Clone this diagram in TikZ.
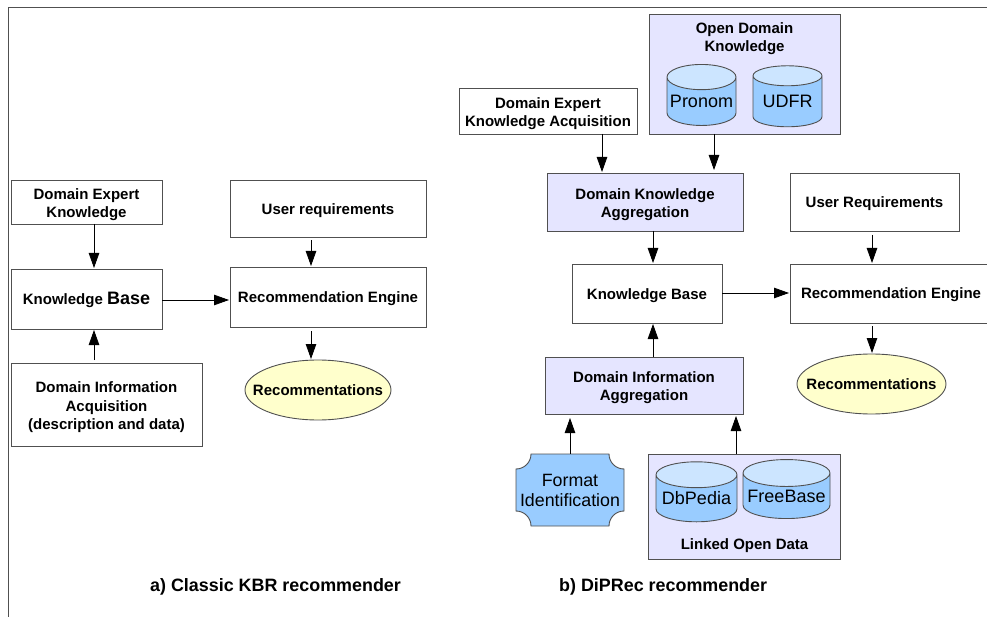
\documentclass[tikz,border=0pt]{standalone}
\usepackage{fontspec}
\setmainfont{Liberation Sans}
\usetikzlibrary{
  positioning,
  shapes.geometric,
  graphs,
  arrows.meta,
}
\definecolor{edgegray}{HTML}{505050}
\definecolor{lilac}{HTML}{E5E5FF}
\definecolor{skyblue}{HTML}{99CCFF}
\definecolor{skytop}{HTML}{CCE5FF}
\definecolor{paleyellow}{HTML}{FFFFCC}
\tikzset{
  x=1pt,
  y=1pt,
  >={Triangle[length=15pt,width=10.5pt]},
  every new ->/.style={
    line width=.8pt,
    shorten >=1pt,
    black,
  },
  box/.style={
    rectangle,
    draw=edgegray,
    line width=.9pt,
    outer sep=0pt,
    inner sep=0pt,
    align=center,
    fill=white,
    text height=15pt,
    font=\fontsize{15}{18.3}\selectfont\bfseries,
  },
  two lines/.style={
    text height=34pt,
  },
  three lines/.style={
    text height=53pt,
  },
  aggregate/.style={
    box,
    fill=lilac,
  },
  outcome/.style={
    box,
    ellipse,
    text height=,
    inner xsep=-14pt,
    fill=paleyellow,
    minimum width=146pt,
    minimum height=60pt,
  },
  store/.style={
    cylinder,
    shape border rotate=90,
    cylinder uses custom fill,
    cylinder body fill=skyblue,
    cylinder end fill=skytop,
    draw=edgegray,
    line width=.9pt,
    outer sep=0pt,
    inner sep=0pt,
    font=\fontsize{18}{20}\selectfont,
  },
  plaque/.style={
    draw=edgegray,
    line width=.9pt,
    fill=skyblue,
  },
  heading/.style={
    align=center,
    inner sep=0pt,
    font=\fontsize{15}{18.3}\selectfont\bfseries,
  },
  caption/.style={
    inner sep=0pt,
    font=\fontsize{17.9}{20}\selectfont\bfseries,
  },
  frame/.style={
    edgegray,
    line width=.9pt,
  },
  drop/.style={
    to path={(#1,0 |- \tikztostart.south) -- (#1,0 |- \tikztotarget.north)},
  },
  rise/.style={
    to path={(#1,0 |- \tikztostart.north) -- (#1,0 |- \tikztotarget.south)},
  },
  across/.style={
    to path={(\tikztostart.east |- 0,#1) -- (\tikztotarget.west |- 0,#1)},
  },
}
\begin{document}
\begin{tikzpicture}
  \useasboundingbox (0,0) rectangle (987,-617);
  \coordinate (cornertop) at (987,-7);
  \coordinate (corner) at (8,-7);
  \coordinate (cornerleft) at (8,-617);
  \draw [frame] (cornertop) -- (corner) -- (cornerleft);

  % a) classic
  \node (dek) [box, two lines, anchor=north west, minimum width=151pt, minimum height=44pt]
    at (11,-180) {Domain Expert\\Knowledge};
  \node (kb) [box, below=45pt of dek, minimum width=151pt, minimum height=60pt]
    {Knowledge {\fontsize{18}{18}\selectfont Base}};
  \node (dia) [box, three lines, below=34pt of kb.south west, anchor=north west, minimum width=191pt, minimum height=83pt]
    {Domain Information\\Acquisition\\(description and data)};
  \node (ur) [box, anchor=north west, minimum width=196pt, minimum height=57pt]
    at (230,-180) {User requirements};
  \node (re) [box, below=30pt of ur, minimum width=196pt, minimum height=60pt]
    {Recommendation Engine};
  \node (rec) [outcome, anchor=north] at (318,-360) {Recommentations};
  \node (capa) [caption, anchor=west] at (150,-587) {a) Classic KBR recommender};

  % b) diprec
  \node (odk) [aggregate, anchor=north west, minimum width=191pt, minimum height=120pt]
    at (649,-14) {};
  \node (odktitle) [heading, anchor=north] at (744.5,-22) {Open Domain\\Knowledge};
  \node (pronom) [store, anchor=center, minimum width=69pt, minimum height=61pt, aspect=.4]
    at (701.5,-101.5) {Pronom};
  \node (udfr) [store, anchor=center, minimum width=69pt, minimum height=61pt, aspect=.4]
    at (787.5,-101.5) {UDFR};
  \node (deka) [box, two lines, anchor=north west, minimum width=178pt, minimum height=46pt]
    at (459,-88) {Domain Expert\\Knowledge Acquisition};
  \node (dka) [aggregate, two lines, anchor=north west, minimum width=196pt, minimum height=58pt]
    at (547,-173) {Domain Knowledge\\Aggregation};
  \node (kbb) [box, anchor=north west, minimum width=150pt, minimum height=59pt]
    at (572,-264) {Knowledge Base};
  \node (dia2) [aggregate, two lines, below=34pt of kbb.south west, anchor=north west, xshift=-27pt, minimum width=198pt, minimum height=57pt]
    {Domain Information\\Aggregation};
  \node (ur2) [box, anchor=north west, minimum width=169pt, minimum height=58pt]
    at (790,-173) {User Requirements};
  \node (re2) [box, below=33pt of ur2.south west, anchor=north west, minimum width=200pt, minimum height=59pt]
    {};
  \node (retext) [heading, anchor=center] at (891,-294.5) {Recommendation Engine};
  \node (rec2) [outcome, anchor=north, minimum width=149pt] at (871.5,-354) {Recommentations};
  \draw [plaque] (516,-469) arc (-90:0:15) -- (609,-454) arc (180:270:15)
    -- (624,-511) arc (90:180:15) -- (531,-526) arc (0:90:15) -- cycle;
  \node (fmt) [anchor=center, align=center, inner sep=0pt, minimum width=108pt, minimum height=72pt,
    font=\fontsize{17.8}{20}\selectfont] at (570,-490) {Format\\Identification};
  \node (lod) [aggregate, anchor=north west, minimum width=192pt, minimum height=105pt]
    at (648,-454) {};
  \node (dbp) [store, anchor=center, minimum width=81pt, minimum height=60pt, aspect=.375]
    at (696.5,-498.5) {DbPedia};
  \node (fb) [store, anchor=center, minimum width=87pt, minimum height=59pt, aspect=.345]
    at (786.5,-496) {FreeBase};
  \node (lodtitle) [heading, anchor=center] at (744.5,-546) {Linked Open Data};
  \node (capb) [caption, anchor=west] at (559,-587) {b) DiPRec recommender};

  \graph [use existing nodes] {
    dek ->[drop=94] kb;
    dia ->[rise=94, shorten <=3pt] kb;
    kb ->[across=-300] re;
    ur ->[drop=311, shorten <=3.5pt] re;
    re ->[drop=311, shorten <=4pt] rec;

    deka ->[drop=602] dka;
    odk ->[drop=714, shorten >=3pt] dka;
    dka ->[drop=653] kbb;
    dia2 ->[rise=653] kbb;
    kbb ->[across=-293] re2;
    ur2 ->[drop=872, shorten <=4pt] re2;
    re2 ->[drop=872, shorten <=3pt] rec2;
    fmt ->[rise=570, shorten >=4pt] dia2;
    lod ->[rise=736, shorten >=2pt] dia2;
  };
\end{tikzpicture}
\end{document}
